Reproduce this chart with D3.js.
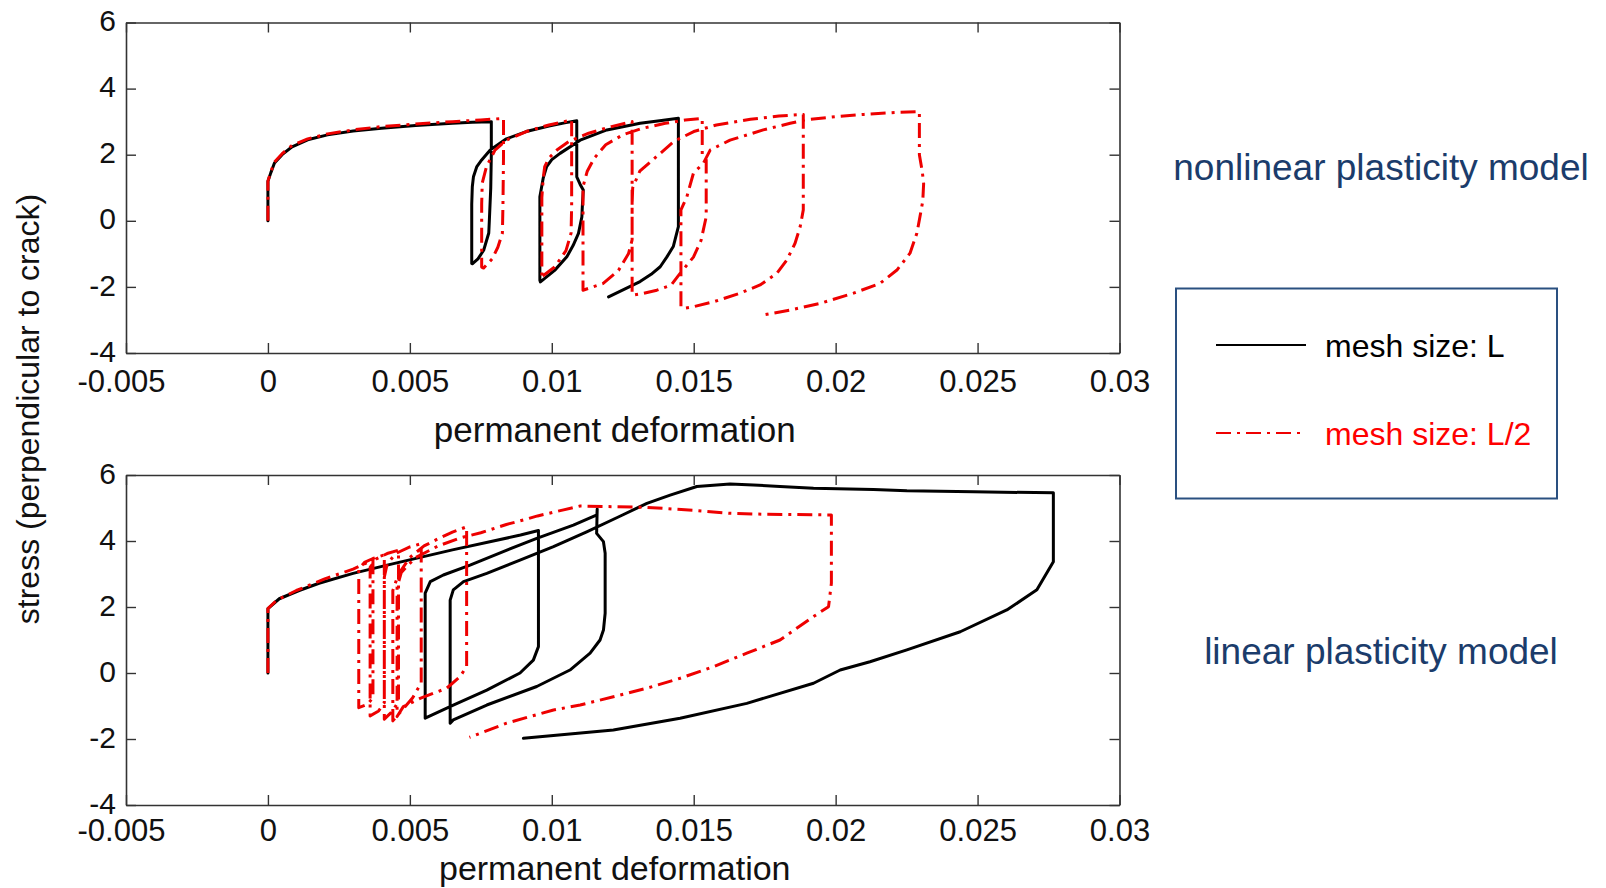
<!DOCTYPE html>
<html>
<head>
<meta charset="utf-8">
<script src="https://cdn.jsdelivr.net/npm/d3@7"></script>
<style>
  body { margin: 0; background: #ffffff; }
  svg { display: block; }
  text { font-family: "Liberation Sans", Arial, Helvetica, sans-serif; }
</style>
</head>
<body>
<svg id="chart" width="1606" height="888"></svg>
<script>
// ---- axis ticks ----
const xTicks = [-0.005, 0, 0.005, 0.01, 0.015, 0.02, 0.025, 0.03];
const xTickLabels = ["-0.005", "0", "0.005", "0.01", "0.015", "0.02", "0.025", "0.03"];
const yTicks = [-4, -2, 0, 2, 4, 6];
const yTickLabels = ["-4", "-2", "0", "2", "4", "6"];
const xDomain = [-0.005, 0.03];
const yDomain = [-4, 6];

// ---- series: [permanent deformation, stress] ----
// nonlinear plasticity model, mesh size L
const nonlinearMeshL = [
  [0, 0], [0, 0.6], [0, 1.2], [0.0001, 1.45], [0.00023, 1.75], [0.0005, 2.0], [0.00085, 2.24],
  [0.0014, 2.45], [0.0021, 2.6], [0.003, 2.72], [0.004, 2.8], [0.0052, 2.88], [0.0065, 2.95],
  [0.0072, 2.98], [0.00787, 3.0],
  [0.00787, 2.0], [0.00785, 1.0], [0.0078, 0], [0.00778, -0.37], [0.0076, -0.89], [0.0074, -1.15], [0.0072, -1.3],
  [0.00718, -1.29], [0.00718, 0.5], [0.0072, 1.03], [0.00724, 1.33], [0.00736, 1.64], [0.00753, 1.84],
  [0.00783, 2.14], [0.0084, 2.48], [0.0091, 2.7], [0.0099, 2.87], [0.0105, 2.97], [0.01088, 3.03],
  [0.01088, 2.0], [0.01088, 1.33], [0.011, 1.1], [0.01111, 0.93], [0.01108, 0.5], [0.01106, 0.12],
  [0.01094, -0.38], [0.01075, -0.75], [0.01053, -1.09], [0.0101, -1.5], [0.0096, -1.85],
  [0.00958, -1.8], [0.00958, 0.73], [0.0097, 1.3], [0.00982, 1.64], [0.01, 1.85], [0.01029, 2.04],
  [0.011, 2.44], [0.01194, 2.75], [0.01311, 2.95], [0.0138, 3.03], [0.01446, 3.1],
  [0.01446, 2.0], [0.01446, 0.23], [0.01446, -0.18], [0.01428, -0.78], [0.01405, -1.1], [0.01382, -1.39],
  [0.0135, -1.62], [0.01311, -1.84], [0.0126, -2.05], [0.012, -2.3]
];
// nonlinear plasticity model, mesh size L/2
const nonlinearMeshHalf = [
  [0, 0], [0, 1.2], [0.0001, 1.48], [0.00023, 1.78], [0.0005, 2.03], [0.00085, 2.28], [0.0014, 2.48],
  [0.0021, 2.63], [0.003, 2.75], [0.004, 2.85], [0.0052, 2.93], [0.0065, 3.0], [0.0075, 3.05], [0.0083, 3.1],
  [0.0083, 2.0], [0.00828, 0.5], [0.00826, -0.37], [0.0081, -0.8], [0.0079, -1.15], [0.0076, -1.43],
  [0.00753, -1.4], [0.00753, 0.5], [0.00755, 1.14], [0.0077, 1.64], [0.008, 2.14], [0.0084, 2.44],
  [0.0091, 2.7], [0.0099, 2.9], [0.0107, 3.05],
  [0.0107, 2.0], [0.0107, 0.5], [0.01068, -0.37], [0.0105, -0.9], [0.0101, -1.4], [0.0096, -1.72],
  [0.00965, -1.7], [0.00965, 0.7], [0.0097, 1.3], [0.00975, 1.64], [0.0099, 1.9], [0.01018, 2.14],
  [0.0106, 2.4], [0.0113, 2.65], [0.0121, 2.85], [0.01283, 3.0],
  [0.01283, 2.0], [0.01283, 0.5], [0.01283, -0.58], [0.0127, -1.0], [0.01235, -1.5], [0.0118, -1.9], [0.0111, -2.1],
  [0.0111, -2.05], [0.0111, 0.5], [0.0111, 1.03], [0.01125, 1.5], [0.0115, 1.9], [0.0119, 2.3],
  [0.0125, 2.6], [0.0132, 2.8], [0.014, 2.95], [0.0147, 3.05], [0.0153, 3.1],
  [0.0153, 2.0], [0.01544, 1.84], [0.01544, 0.12], [0.01526, -0.59], [0.01499, -1.1], [0.01452, -1.59],
  [0.0142, -1.95], [0.0137, -2.1], [0.0132, -2.2], [0.01285, -2.25],
  [0.01283, -2.2], [0.01283, 0.5], [0.01285, 1.0], [0.0131, 1.5], [0.0137, 1.95], [0.0143, 2.4],
  [0.015, 2.7], [0.0158, 2.9], [0.017, 3.07], [0.018, 3.17], [0.01886, 3.22],
  [0.01886, 2.0], [0.01886, 0.33], [0.01875, -0.18], [0.01857, -0.68], [0.01828, -1.19], [0.01793, -1.59],
  [0.01734, -1.94], [0.01663, -2.19], [0.0157, -2.45], [0.01499, -2.6], [0.01464, -2.65],
  [0.01455, -2.6], [0.01455, 0.33], [0.01476, 0.73], [0.01499, 1.44], [0.01534, 1.74], [0.01558, 2.14],
  [0.01628, 2.44], [0.01745, 2.75], [0.0184, 2.95], [0.0189, 3.05], [0.02, 3.15], [0.021, 3.22],
  [0.0222, 3.28], [0.02295, 3.3],
  [0.02295, 2.0], [0.02305, 1.5], [0.0231, 1.13], [0.02307, 0.6], [0.02297, 0.12], [0.02286, -0.38],
  [0.02262, -0.98], [0.02216, -1.49], [0.02157, -1.89], [0.02063, -2.19], [0.01945, -2.5],
  [0.0184, -2.7], [0.01745, -2.85]
];
// linear plasticity model, mesh size L
const linearMeshL = [
  [0, 0], [0, 1.95], [0.0004, 2.25], [0.0011, 2.5], [0.0018, 2.72], [0.003, 3.02], [0.0042, 3.27],
  [0.0065, 3.73], [0.0089, 4.18], [0.00953, 4.32],
  [0.00953, 2.0], [0.00953, 0.8], [0.00935, 0.39], [0.00888, 0], [0.00771, -0.52], [0.00653, -0.97], [0.00554, -1.37],
  [0.00554, 0], [0.00554, 2.42], [0.00572, 2.77], [0.00618, 2.97], [0.00712, 3.27], [0.00829, 3.68],
  [0.00947, 4.08], [0.01076, 4.48], [0.01159, 4.79], [0.0116, 4.97],
  [0.01158, 4.23], [0.01182, 3.98], [0.01188, 3.63], [0.01188, 1.81], [0.01182, 1.3], [0.0117, 1.0],
  [0.01135, 0.6], [0.01064, 0.09], [0.00947, -0.41], [0.00771, -0.97], [0.00653, -1.42], [0.00642, -1.52],
  [0.00642, -1.5], [0.00642, 2.21], [0.00653, 2.52], [0.00689, 2.77], [0.00771, 3.02], [0.00888, 3.42],
  [0.01006, 3.83], [0.01123, 4.28], [0.0124, 4.75], [0.01335, 5.14], [0.01417, 5.39], [0.01511, 5.65],
  [0.01628, 5.73], [0.0171, 5.7], [0.01804, 5.65], [0.01922, 5.6], [0.02133, 5.56], [0.02251, 5.52],
  [0.02486, 5.49], [0.02767, 5.46],
  [0.02767, 3.37], [0.02709, 2.52], [0.02603, 1.91], [0.02439, 1.25], [0.02251, 0.7], [0.02121, 0.34],
  [0.02016, 0.09], [0.01922, -0.31], [0.01687, -0.92], [0.01452, -1.37], [0.01217, -1.73], [0.009, -1.98]
];
// linear plasticity model, mesh size L/2
const linearMeshHalf = [
  [0, 0], [0, 1.95], [0.0003, 2.2], [0.001, 2.5], [0.002, 2.85], [0.003, 3.15], [0.0037, 3.42],
  [0.0037, -0.75], [0.0035, -0.95], [0.0032, -1.05],
  [0.0032, 3.15], [0.0034, 3.35], [0.0037, 3.47], [0.0041, 3.58],
  [0.0041, -0.9], [0.0039, -1.15], [0.0036, -1.3],
  [0.0036, 3.2], [0.0038, 3.45], [0.0042, 3.62], [0.0046, 3.72],
  [0.0046, -0.85], [0.0044, -1.15], [0.0041, -1.4],
  [0.0041, 2.9], [0.0042, 3.3], [0.0045, 3.62], [0.005, 3.82], [0.0054, 3.92],
  [0.0054, -0.3], [0.0051, -0.75], [0.0047, -1.15], [0.0044, -1.45],
  [0.0044, 2.5], [0.0046, 3.0], [0.005, 3.5], [0.0055, 3.85], [0.006, 4.07], [0.0065, 4.27], [0.007, 4.43],
  [0.007, 0.2], [0.00677, -0.11], [0.0063, -0.46], [0.00536, -0.77], [0.00477, -1.02], [0.00455, -1.32],
  [0.00455, 2.6], [0.0047, 3.05], [0.0052, 3.5], [0.006, 3.85], [0.0068, 4.1], [0.0075, 4.25],
  [0.0084, 4.5], [0.0091, 4.66], [0.0095, 4.76], [0.0103, 4.92], [0.011, 5.06], [0.0122, 5.04],
  [0.01335, 5.02], [0.01511, 4.92], [0.01628, 4.84], [0.01745, 4.81], [0.01985, 4.79],
  [0.01985, 2.72], [0.01975, 2.01], [0.01922, 1.71], [0.01804, 1.0], [0.01687, 0.6], [0.01569, 0.19],
  [0.01452, -0.16], [0.01335, -0.46], [0.01217, -0.72], [0.011, -0.97], [0.01006, -1.12],
  [0.00841, -1.52], [0.0071, -1.95]
];

const seriesNames = ["mesh size: L", "mesh size: L/2"];
const modelNames = ["nonlinear plasticity model", "linear plasticity model"];
const xTitle = "permanent deformation";
const yTitle = "stress (perpendicular to crack)";

// ---- layout & style ----
const svg = d3.select("#chart");
const plotLeft = 126, plotRight = 1119.5;
const panels = [
  { top: 22.5, bottom: 353, solid: nonlinearMeshL, dashed: nonlinearMeshHalf,
    tickPad: 17, xTitleY: 442, titleSize: 35, model: modelNames[0], modelY: 180 },
  { top: 475, bottom: 805, solid: linearMeshL, dashed: linearMeshHalf,
    tickPad: 14, xTitleY: 880, titleSize: 34, model: modelNames[1], modelY: 664 }
];
const frameColor = "#333333";
const navy = "#1b3c6b";
const red = "#ee0000";
const dashDot = "15,6,3,6";

svg.append("rect").attr("width", 1606).attr("height", 888).attr("fill", "#ffffff");

const x = d3.scaleLinear().domain(xDomain).range([plotLeft, plotRight]);

panels.forEach(p => {
  const y = d3.scaleLinear().domain(yDomain).range([p.bottom, p.top]);
  const g = svg.append("g");

  const styleAxis = (sel, size) => {
    sel.select(".domain").attr("stroke", frameColor).attr("stroke-width", 1.6);
    sel.selectAll(".tick line").attr("stroke", frameColor).attr("stroke-width", 1.4);
    sel.selectAll(".tick text").attr("fill", "#111").attr("font-size", size)
      .attr("font-family", "'Liberation Sans', Arial, sans-serif");
  };

  // bottom axis with labels
  const bottomAxis = g.append("g").attr("transform", `translate(0,${p.bottom})`)
    .call(d3.axisBottom(x).tickValues(xTicks).tickSizeInner(-10).tickSizeOuter(0).tickPadding(p.tickPad)
      .tickFormat((d, i) => xTickLabels[i]))
    .call(styleAxis, 31);
  // the leftmost label sits a little left of its tick
  bottomAxis.selectAll(".tick text").filter((d, i) => i === 0).attr("dx", -5);

  // top axis, ticks only
  g.append("g").attr("transform", `translate(0,${p.top})`)
    .call(d3.axisTop(x).tickValues(xTicks).tickSizeInner(-10).tickSizeOuter(0).tickFormat(() => ""))
    .call(styleAxis, 31);
  // left axis with labels
  g.append("g").attr("transform", `translate(${plotLeft},0)`)
    .call(d3.axisLeft(y).tickValues(yTicks).tickSizeInner(-10).tickSizeOuter(0).tickPadding(10)
      .tickFormat((d, i) => yTickLabels[i]))
    .call(styleAxis, 30)
    .call(sel => sel.selectAll(".tick text").attr("dy", "0.27em"));
  // right axis, ticks only
  g.append("g").attr("transform", `translate(${plotRight},0)`)
    .call(d3.axisRight(y).tickValues(yTicks).tickSizeInner(-10).tickSizeOuter(0).tickFormat(() => ""))
    .call(styleAxis, 30);

  const line = d3.line().x(d => x(d[0])).y(d => y(d[1]));

  g.append("path").datum(p.solid)
    .attr("d", line).attr("fill", "none").attr("stroke", "#000")
    .attr("stroke-width", 3).attr("stroke-linejoin", "round").attr("stroke-linecap", "round");

  g.append("path").datum(p.dashed)
    .attr("d", line).attr("fill", "none").attr("stroke", red)
    .attr("stroke-width", 3).attr("stroke-dasharray", dashDot).attr("stroke-linejoin", "round");

  // x axis title
  svg.append("text").attr("x", (plotLeft + plotRight) / 2 - 8).attr("y", p.xTitleY)
    .attr("text-anchor", "middle").attr("font-size", p.titleSize).attr("fill", "#111").text(xTitle);

  // model name on the right
  svg.append("text").attr("x", 1381).attr("y", p.modelY)
    .attr("text-anchor", "middle").attr("font-size", 37).attr("fill", navy).text(p.model);
});

// shared y axis title
svg.append("text")
  .attr("transform", "translate(39,409) rotate(-90)")
  .attr("text-anchor", "middle").attr("font-size", 32).attr("fill", "#111").text(yTitle);

// legend
const legend = svg.append("g");
legend.append("rect").attr("x", 1176).attr("y", 288.5).attr("width", 381).attr("height", 210)
  .attr("fill", "#fff").attr("stroke", "#2a5080").attr("stroke-width", 2);
const legendRows = [
  { name: seriesNames[0], y: 345, color: "#000", dash: null },
  { name: seriesNames[1], y: 433, color: red, dash: dashDot }
];
legendRows.forEach(r => {
  legend.append("line").attr("x1", 1216).attr("x2", 1306).attr("y1", r.y).attr("y2", r.y)
    .attr("stroke", r.color).attr("stroke-width", 2).attr("stroke-dasharray", r.dash);
  legend.append("text").attr("x", 1325).attr("y", r.y + 12)
    .attr("font-size", 32).attr("fill", r.color === "#000" ? "#000" : "#ff0000").text(r.name);
});
</script>
</body>
</html>
